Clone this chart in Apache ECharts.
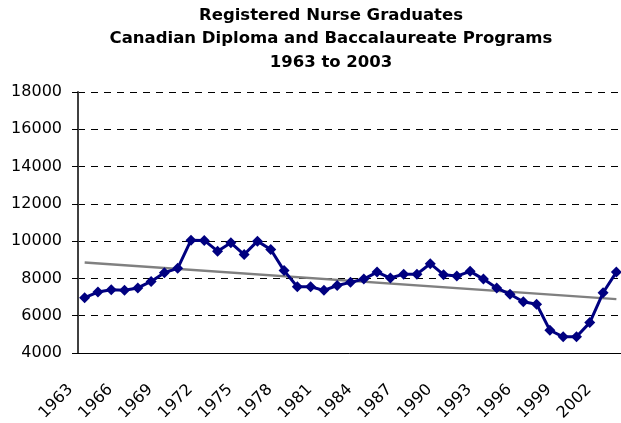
<!DOCTYPE html>
<html>
<head>
<meta charset="utf-8">
<script src="https://cdn.jsdelivr.net/npm/echarts@6/dist/echarts.min.js"></script>
<style>
  html, body { margin: 0; padding: 0; background: #fff; }
  #main { width: 621px; height: 423px; }
</style>
</head>
<body>
<div id="main"></div>
<script>
// 年份
var years = [];
for (var y = 1963; y <= 2003; y++) years.push(String(y));

// 毕业人数
var graduates = [
  6970, 7270, 7390, 7370, 7490, 7840, 8310, 8540, 10050, 10040,
  9460, 9910, 9280, 10000, 9550, 8420, 7550, 7550, 7360, 7620,
  7790, 7965, 8340, 8020, 8230, 8230, 8790, 8200, 8125, 8380,
  7965, 7490, 7150, 6750, 6620, 5220, 4870, 4870, 5630, 7230,
  8340
];

// 趋势线两端
var trendStart = 8860;
var trendEnd = 6890;

var trend = years.map(function (d, i) {
  if (i === 0) return trendStart;
  if (i === years.length - 1) return trendEnd;
  return null;
});

var myChart = echarts.init(document.getElementById('main'));

var font = 'DejaVu Sans';

option = {
  animation: false,
  backgroundColor: '#fff',
  title: {
    text: 'Registered Nurse Graduates\nCanadian Diploma and Baccalaureate Programs\n1963 to 2003',
    left: 331,
    textAlign: 'center',
    top: 3.5,
    padding: 0,
    textStyle: {
      fontFamily: font,
      fontSize: 16.5,
      fontWeight: 'bold',
      color: '#000',
      lineHeight: 23.5
    }
  },
  grid: {
    left: 78,
    top: 92,
    width: 545,
    height: 261,
    outerBoundsMode: 'none',
    containLabel: false
  },
  xAxis: {
    type: 'category',
    data: years,
    boundaryGap: true,
    axisLine: { lineStyle: { color: '#000', width: 1 } },
    axisTick: { interval: 0, length: 6, lineStyle: { color: '#000' } },
    axisLabel: {
      interval: 2,
      rotate: 45,
      margin: 20,
      padding: [0, 20, 0, 0],
      fontFamily: font,
      fontSize: 16,
      color: '#000'
    },
    splitLine: { show: false }
  },
  yAxis: {
    type: 'value',
    min: 4000,
    max: 18000,
    interval: 2000,
    axisLine: { show: true, lineStyle: { color: '#404040', width: 2 } },
    axisTick: { show: true, length: 6, lineStyle: { color: '#000' } },
    axisLabel: {
      margin: 16,
      fontFamily: font,
      fontSize: 16,
      color: '#000',
      formatter: function (v) { return String(v); }
    },
    splitLine: {
      show: true,
      lineStyle: { color: '#000', type: [7, 6], width: 1 }
    }
  },
  series: [
    {
      name: 'Graduates',
      type: 'line',
      data: graduates,
      symbol: 'diamond',
      symbolSize: 11,
      showAllSymbol: true,
      z: 3,
      itemStyle: { color: '#000080' },
      lineStyle: { color: '#000080', width: 3 }
    },
    {
      name: 'Trend',
      type: 'line',
      data: trend,
      connectNulls: true,
      symbol: 'none',
      z: 2,
      lineStyle: { color: '#808080', width: 2.5 }
    }
  ]
};

myChart.setOption(option);
</script>
</body>
</html>
